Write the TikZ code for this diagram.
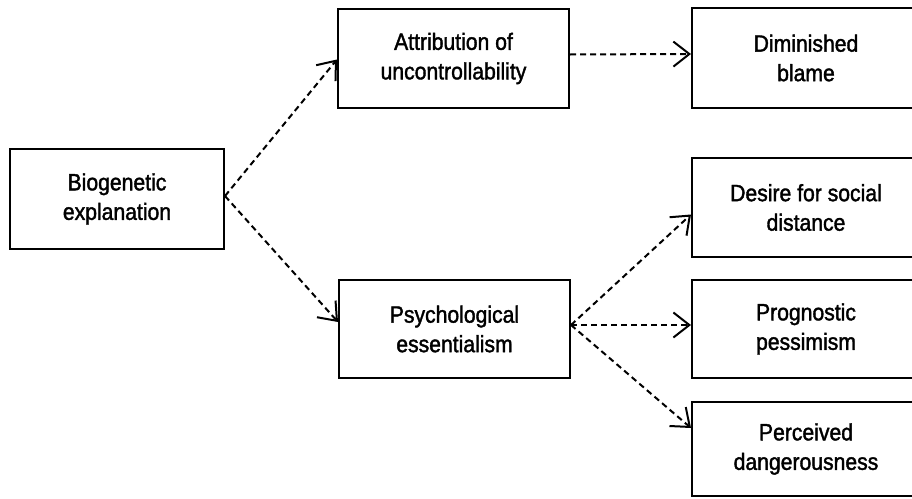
\documentclass[tikz,border=0pt]{standalone}
\usepackage{fontspec}
\setmainfont{Liberation Sans}[FakeStretch=0.9,FakeBold=1.6]
\usetikzlibrary{arrows.meta}
\begin{document}
\begin{tikzpicture}[x=1pt,y=-1pt,
  box/.style={draw=black, line width=2pt, rectangle, inner sep=0pt, align=center,
    font=\fontsize{23.5}{29.5}\selectfont},
  link/.style={draw=black, line width=2pt, dash pattern=on 6pt off 4pt,
    -{Straight Barb[length=16pt,width=25pt,line width=2pt]}}]
\useasboundingbox (0,0) rectangle (912,498);
\node[box, minimum width=214pt, minimum height=100pt] (bio) at (117,199) {Biogenetic\\explanation};
\node[box, minimum width=231pt, minimum height=99pt] (attr) at (453.5,58.5) {Attribution of\\uncontrollability};
\node[box, minimum width=231pt, minimum height=98pt] (psych) at (454.5,329) {Psychological\\essentialism};
\node[box, minimum width=228pt, minimum height=100pt] (dim) at (806,58) {Diminished\\blame};
\node[box, minimum width=228pt, minimum height=99pt] (des) at (806,207.5) {Desire for social\\distance};
\node[box, minimum width=228pt, minimum height=98pt] (prog) at (806,329) {Prognostic\\pessimism};
\node[box, minimum width=228pt, minimum height=94pt] (perc) at (806,449) {Perceived\\dangerousness};
\coordinate (bs) at ([yshift=3pt]bio.east);
\coordinate (ps) at ([yshift=4pt]psych.east);
\draw[link] (bs) -- ([yshift=-1pt]attr.west);
\draw[link] (bs) -- ([yshift=7pt]psych.west);
\draw[link] ([yshift=4pt]attr.east) -- ([yshift=4pt]dim.west);
\draw[link] (ps) -- ([yshift=-7pt]des.west);
\draw[link] (ps) -- ([yshift=4pt]prog.west);
\draw[link] (ps) -- ([yshift=21pt]perc.west);
\end{tikzpicture}
\end{document}
